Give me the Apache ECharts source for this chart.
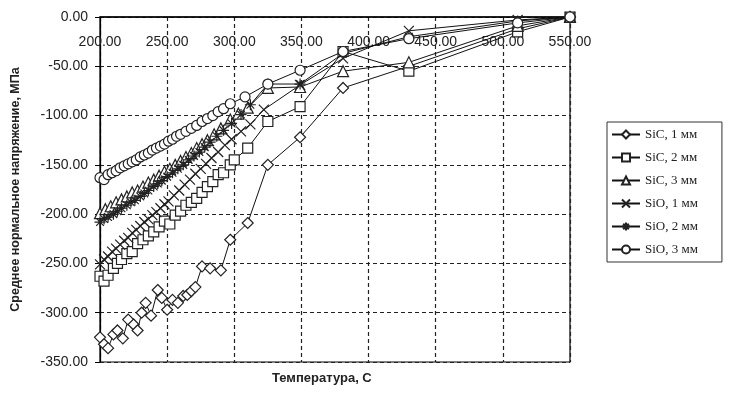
<!DOCTYPE html>
<html><head><meta charset="utf-8">
<script src="https://cdn.jsdelivr.net/npm/echarts@6/dist/echarts.min.js"></script>
<style>html,body{margin:0;padding:0;background:#fff}#c{width:732px;height:397px}</style>
</head><body><div id="c"></div>
<script>
// ---- data ----
const seriesNames = ['SiC, 1 мм','SiC, 2 мм','SiC, 3 мм','SiO, 1 мм','SiO, 2 мм','SiO, 3 мм'];
const xTicks = [200,250,300,350,400,450,500,550];
const yTicks = [0,-50,-100,-150,-200,-250,-300,-350];

const sic1T = [200,203,206,210,213,217,221,225,228,231,234,238,243,246,250,254,258,262,265,268,271,276,282,290,297,310,325,349,381,430,511,550];
const sic1V = [-325,-332,-336,-322,-318,-326,-307,-312,-318,-300,-290,-303,-277,-285,-297,-287,-290,-283,-282,-278,-274,-253,-255,-257,-226,-209,-150,-122,-72,-50,-12,0];

const sic2T = [200,203,206,210,213,216,220,224,228,232,236,240,244,248,252,256,260,264,268,272,276,280,284,288,292,297,300,310,325,349,381,430,511,550];
const sic2V = [-263,-268,-262,-255,-250,-246,-240,-238,-230,-226,-222,-218,-213,-207,-210,-201,-197,-191,-188,-184,-178,-172,-167,-160,-158,-150,-145,-133,-106,-91,-35,-55,-15,0];

const sic3T = [200,204,208,212,216,220,224,228,232,236,240,244,248,252,256,260,264,268,272,276,280,285,290,297,303,310,325,349,381,430,511,550];
const sic3V = [-199,-195,-192,-188,-185,-182,-178,-176,-172,-168,-165,-161,-157,-154,-150,-146,-142,-138,-133,-129,-125,-119,-113,-104,-98,-92,-72,-71,-55,-46,-9,0];

const sio1T = [200,203,206,209,212,215,218,221,224,227,230,233,236,239,242,245,248,251,255,259,263,267,271,275,279,283,288,293,298,305,312,322,349,381,430,511,550];
const sio1V = [-251,-246,-243,-238,-235,-231,-227,-224,-219,-216,-212,-208,-205,-201,-198,-194,-190,-187,-181,-176,-170,-165,-159,-154,-149,-143,-137,-130,-124,-116,-109,-94,-69,-42,-14,-3,0];

const sio2T = [200,203,206,210,213,216,220,223,226,230,233,236,240,243,246,250,254,258,262,266,270,274,278,282,287,292,298,305,312,325,349,381,430,511,550];
const sio2V = [-208,-205,-203,-200,-197,-194,-191,-188,-186,-182,-179,-176,-172,-169,-166,-162,-158,-154,-150,-145,-141,-137,-132,-127,-121,-115,-108,-99,-89,-68,-68,-37,-20,-4,0];

const sio3T = [200,203,206,209,212,215,218,221,224,227,230,233,236,239,242,245,248,251,254,257,260,264,268,272,276,280,284,288,292,297,308,325,349,381,430,511,550];
const sio3V = [-163,-165,-160,-158,-156,-153,-151,-149,-147,-145,-142,-140,-138,-135,-133,-131,-129,-126,-124,-121,-119,-116,-113,-110,-106,-103,-100,-96,-93,-88,-81,-68,-54,-35,-22,-6,0];

// ---- chart ----
const pairs = (t, v) => t.map((x, i) => [x, v[i]]);
const symX = 'path://M0,0L10,10M10,0L0,10';
const symStar = 'path://M5,0L5,10M0,5L10,5M1.5,1.5L8.5,8.5M8.5,1.5L1.5,8.5';
const defs = [
  [sic1T, sic1V, 'diamond', 11],
  [sic2T, sic2V, 'rect', 10],
  [sic3T, sic3V, 'triangle', 11],
  [sio1T, sio1V, symX, 10],
  [sio2T, sio2V, symStar, 11],
  [sio3T, sio3V, 'circle', 10]
];
const series = defs.map((d, i) => ({
  name: seriesNames[i],
  type: 'line',
  data: pairs(d[0], d[1]),
  symbol: d[2],
  symbolSize: d[3],
  showAllSymbol: true,
  lineStyle: { color: '#111', width: 1 },
  itemStyle: { color: '#fff', borderColor: '#222', borderWidth: 1.2 },
  animation: false
}));

const chart = echarts.init(document.getElementById('c'), null, { renderer: 'canvas' });
chart.setOption({
  backgroundColor: '#fff',
  animation: false,
  grid: { left: 100, right: 162, top: 17, bottom: 35, show: true, borderColor: '#000', borderWidth: 1.2 },
  xAxis: {
    type: 'value', position: 'top', min: 200, max: 550, interval: 50,
    axisLine: { show: true, lineStyle: { color: '#000', width: 1.5 } },
    axisTick: { show: false },
    axisLabel: { inside: true, margin: 18, color: '#222', fontFamily: 'Liberation Sans, Arial', fontSize: 14,
      formatter: v => xTicks.includes(v) ? v.toFixed(2) : '' },
    splitLine: { show: true, lineStyle: { color: '#222', type: [4, 3], width: 1.2 } }
  },
  yAxis: {
    type: 'value', min: -350, max: 0, interval: 50,
    axisLine: { show: true, lineStyle: { color: '#000', width: 1.2 } },
    axisTick: { show: true, length: 5, lineStyle: { color: '#000' } },
    axisLabel: { margin: 12, color: '#222', fontFamily: 'Liberation Sans, Arial', fontSize: 14,
      formatter: v => yTicks.includes(v) ? v.toFixed(2) : '' },
    splitLine: { show: true, lineStyle: { color: '#222', type: [4, 3], width: 1.2 } },
    name: 'Среднее нормальное напряжение, МПа',
    nameLocation: 'middle', nameGap: 78,
    nameTextStyle: { fontFamily: 'Liberation Sans, Arial', fontWeight: 'bold', fontSize: 12.5, color: '#222' }
  },
  legend: {
    orient: 'vertical', left: 607, top: 122,
    itemWidth: 28, itemHeight: 10, itemGap: 10,
    padding: [6, 24, 6, 4],
    borderColor: '#333', borderWidth: 1,
    textStyle: { fontFamily: 'Liberation Serif, Times New Roman', fontSize: 13, color: '#222' },
    data: seriesNames
  },
  graphic: [{
    type: 'text', left: 272, top: 372,
    style: { text: 'Температура, С', font: 'bold 13px "Liberation Sans", Arial', fill: '#222' }
  }],
  series: series
});
</script>
</body></html>
